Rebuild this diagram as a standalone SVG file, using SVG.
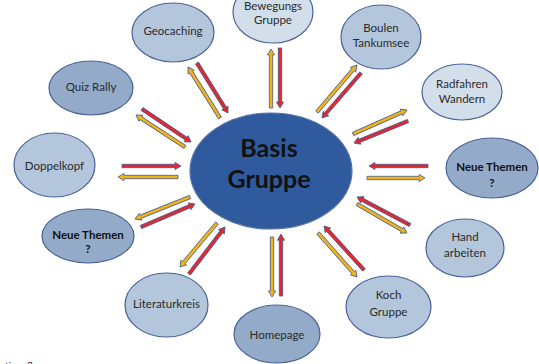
<svg xmlns="http://www.w3.org/2000/svg" xmlns:xlink="http://www.w3.org/1999/xlink" width="539" height="364" viewBox="0 0 539 364">
<style>
.e{stroke:#4A6296;stroke-width:1.2}
.l1{fill:#D3DEEB}
.l2{fill:#B4C6DC}
.l3{fill:#93ABC9}
.t{font-family:Lato,"Liberation Sans",sans-serif;font-size:11.5px;fill:#2A2A2A;text-anchor:middle}
.b{font-weight:bold;fill:#111}
.r{fill:#E0282E}
.y{fill:#F0B31A}
.ar{stroke:#44598C;stroke-width:0.8;stroke-linejoin:miter}
</style>
<defs>
<polygon id="a" points="0,-1.7 54,-1.7 54,-3.6 60,0 54,3.6 54,1.7 0,1.7"/>
</defs>
<rect width="539" height="364" fill="#fff"/>
<g id="connectors" class="ar">
<use href="#a" class="y" transform="translate(271,108) rotate(-90) scale(0.983,1)"/>
<use href="#a" class="r" transform="translate(280,48) rotate(90) scale(1,1)"/>
<use href="#a" class="y" transform="translate(220,118) rotate(-122.1) scale(1.003,1)"/>
<use href="#a" class="r" transform="translate(197,63) rotate(58.2) scale(0.98,1)"/>
<use href="#a" class="y" transform="translate(317,112) rotate(-49.6) scale(1.028,1)"/>
<use href="#a" class="r" transform="translate(361,73) rotate(130.9) scale(0.992,1)"/>
<use href="#a" class="y" transform="translate(353,134) rotate(-23.96) scale(0.985,1)"/>
<use href="#a" class="r" transform="translate(408,121) rotate(157.8) scale(0.972,1)"/>
<use href="#a" class="r" transform="translate(428,166) rotate(180) scale(0.983,1)"/>
<use href="#a" class="y" transform="translate(367,178) rotate(0) scale(0.967,1)"/>
<use href="#a" class="r" transform="translate(410,225) rotate(-152.15) scale(0.998,1)"/>
<use href="#a" class="y" transform="translate(357,204) rotate(30.1) scale(0.963,1)"/>
<use href="#a" class="r" transform="translate(364,270) rotate(-132.3) scale(0.992,1)"/>
<use href="#a" class="y" transform="translate(318,233) rotate(48.4) scale(0.98,1)"/>
<use href="#a" class="y" transform="translate(272,237) rotate(90) scale(1,1)"/>
<use href="#a" class="r" transform="translate(281,296) rotate(-90) scale(1.033,1)"/>
<use href="#a" class="y" transform="translate(217,223) rotate(130.06) scale(0.958,1)"/>
<use href="#a" class="r" transform="translate(189,274) rotate(-52.55) scale(0.987,1)"/>
<use href="#a" class="y" transform="translate(190,197) rotate(158.2) scale(0.987,1)"/>
<use href="#a" class="r" transform="translate(141,227) rotate(-23.07) scale(0.978,1)"/>
<use href="#a" class="r" transform="translate(122,166) rotate(0) scale(0.983,1)"/>
<use href="#a" class="y" transform="translate(178,177) rotate(180) scale(1,1)"/>
<use href="#a" class="r" transform="translate(142,109) rotate(33.96) scale(0.985,1)"/>
<use href="#a" class="y" transform="translate(185,147) rotate(-146.85) scale(0.975,1)"/>
</g>
<g id="basis">
<ellipse cx="271" cy="171" rx="81" ry="58" fill="#2F5A9E" stroke="#5872A6" stroke-width="1.2"/>
<text x="269" y="157" font-family="Lato,'Liberation Sans',sans-serif" font-size="25" font-weight="bold" fill="#111" text-anchor="middle">Basis</text>
<text x="269" y="188" font-family="Lato,'Liberation Sans',sans-serif" font-size="25" font-weight="bold" fill="#111" text-anchor="middle">Gruppe</text>
</g>
<g id="bewegungs">
<ellipse class="e l1" cx="273" cy="12" rx="40" ry="31"/>
<text class="t" x="273" y="10">Bewegungs</text>
<text class="t" x="273" y="24">Gruppe</text>
</g>
<g id="geocaching">
<ellipse class="e l2" cx="173" cy="32.5" rx="41" ry="29.5"/>
<text class="t" x="173" y="35">Geocaching</text>
</g>
<g id="boulen">
<ellipse class="e l2" cx="381" cy="37" rx="40" ry="32"/>
<text class="t" x="381" y="32">Boulen</text>
<text class="t" x="381" y="47">Tankumsee</text>
</g>
<g id="radfahren">
<ellipse class="e l1" cx="462" cy="92" rx="40" ry="28"/>
<text class="t" x="462" y="88">Radfahren</text>
<text class="t" x="462" y="103">Wandern</text>
</g>
<g id="quizrally">
<ellipse class="e l3" cx="91" cy="88" rx="42" ry="27"/>
<text class="t" x="91" y="91">Quiz Rally</text>
</g>
<g id="doppelkopf">
<ellipse class="e l2" cx="54.5" cy="165" rx="40.5" ry="32"/>
<text class="t" x="54.5" y="170">Doppelkopf</text>
</g>
<g id="neuethemen-links">
<ellipse class="e l3" cx="88" cy="236" rx="46" ry="27"/>
<text class="t b" x="88" y="239">Neue Themen</text>
<text class="t b" x="88" y="253">?</text>
</g>
<g id="neuethemen-rechts">
<ellipse class="e l3" cx="492" cy="168" rx="46" ry="30"/>
<text class="t b" x="492" y="171">Neue Themen</text>
<text class="t b" x="492" y="187">?</text>
</g>
<g id="handarbeiten">
<ellipse class="e l2" cx="465" cy="248" rx="39" ry="29"/>
<text class="t" x="465" y="241">Hand</text>
<text class="t" x="465" y="257">arbeiten</text>
</g>
<g id="kochgruppe">
<ellipse class="e l2" cx="388.5" cy="307" rx="42.5" ry="31"/>
<text class="t" x="388.5" y="299">Koch</text>
<text class="t" x="388.5" y="315.5">Gruppe</text>
</g>
<g id="homepage">
<ellipse class="e l3" cx="277" cy="334" rx="43" ry="29"/>
<text class="t" x="277" y="339">Homepage</text>
</g>
<g id="literaturkreis">
<ellipse class="e l2" cx="166.5" cy="305" rx="41.5" ry="32"/>
<text class="t" x="166.5" y="308">Literaturkreis</text>
</g>
<text x="0" y="369" font-family="Lato,'Liberation Sans',sans-serif" font-size="10" fill="#333">ationsfluss</text>
</svg>
